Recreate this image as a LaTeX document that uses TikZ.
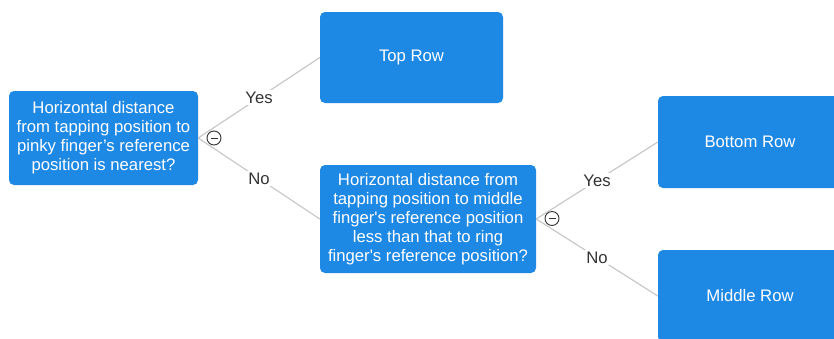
\documentclass[tikz,border=0pt]{standalone}
\usepackage{fontspec}
\setmainfont{Liberation Sans}
\definecolor{nodeblue}{HTML}{1E88E5}
\definecolor{linegray}{HTML}{C8C8C8}
\definecolor{labelgray}{HTML}{333333}
\begin{document}
\begin{tikzpicture}[x=1pt,y=-1pt,
  box/.style={fill=nodeblue, rounded corners=5pt, text=white, align=center,
    font=\fontsize{16.7}{19}\selectfont, inner sep=0pt},
  conn/.style={draw=linegray, line width=1.2pt},
  lbl/.style={fill=white, text=labelgray, font=\fontsize{16.7}{19}\selectfont, inner sep=1.5pt},
  toggle/.style={circle, draw=labelgray, fill=white, line width=0.9pt, minimum size=14pt, inner sep=0pt}]
\useasboundingbox (0,0) rectangle (834,338);
\clip (0,0) rectangle (834,338);
\node[box, minimum width=189pt, minimum height=94pt] (n1) at (103.5,138)
  {Horizontal distance\\from tapping position to\\pinky finger's reference\\position is nearest?};
\node[box, minimum width=183pt, minimum height=91pt] (top) at (411.5,57.5) {Top Row};
\node[box, minimum width=216pt, minimum height=108pt] (n2) at (428,219)
  {Horizontal distance from\\tapping position to middle\\finger\textquotesingle s reference position\\less than that to ring\\finger\textquotesingle s reference position?};
\node[box, minimum width=184pt, minimum height=92pt] (bot) at (750,142) {Bottom Row};
\node[box, minimum width=184pt, minimum height=92pt] (mid) at (750,296) {Middle Row};
\draw[conn] (n1.east) -- node[lbl] (y1) {Yes} (top.west);
\draw[conn] (n1.east) -- node[lbl] (no1) {No} (n2.west);
\draw[conn] (n2.east) -- node[lbl] (y2) {Yes} (bot.west);
\draw[conn] (n2.east) -- node[lbl] (no2) {No} (mid.west);
\node[toggle] (c1) at (214,138) {};
\draw[labelgray, line width=1pt] ([xshift=-3.5pt]c1.center) -- ([xshift=3.5pt]c1.center);
\node[toggle] (c2) at (552,218.5) {};
\draw[labelgray, line width=1pt] ([xshift=-3.5pt]c2.center) -- ([xshift=3.5pt]c2.center);
\end{tikzpicture}
\end{document}
